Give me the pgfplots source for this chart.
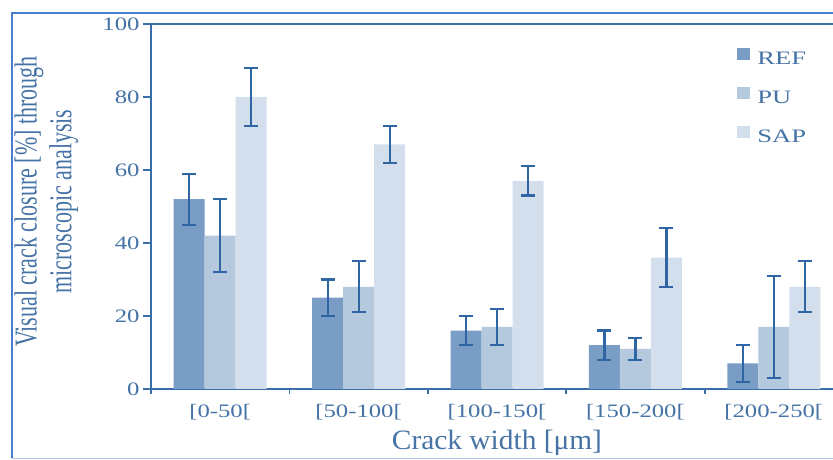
\documentclass[border=0pt]{standalone}
\usepackage{pgfplots}
\pgfplotsset{compat=1.18}
\usepackage{pgfplotstable}
\usepackage{graphicx}
\usepackage{fontspec}
\setmainfont{Liberation Serif}
\newfontfamily\tickfont{Liberation Serif}[FakeStretch=1.3]
\newfontfamily\legfont{Liberation Serif}[FakeStretch=1.4]
\newfontfamily\labfont{Liberation Serif}[FakeStretch=1.05]
\definecolor{refc}{HTML}{7A9DC5}
\definecolor{puc}{HTML}{B4C8DE}
\definecolor{sapc}{HTML}{D3DFEC}
\definecolor{errc}{HTML}{2F65A2}
\definecolor{axc}{HTML}{3A6EAA}
\definecolor{txtc}{HTML}{4573A6}
\definecolor{framec}{HTML}{4A7CCF}
\definecolor{framelt}{HTML}{AFC4E8}

\pgfplotstableread{
x y e
0 52 7
1 25 5
2 16 4
3 12 4
4 7 5
}\refdata
\pgfplotstableread{
x y e
0 42 10
1 28 7
2 17 5
3 11 3
4 17 14
}\pudata
\pgfplotstableread{
x y e
0 80 8
1 67 5
2 57 4
3 36 8
4 28 7
}\sapdata

\begin{document}
\begin{tikzpicture}
\draw[framec, line width=1.5pt] (12pt,1.5pt) -- (12pt,447pt) -- (850pt,447pt);
\draw[framelt, line width=1.5pt] (12pt,1.5pt) -- (850pt,1.5pt);
\begin{axis}[
  at={(151pt,71pt)}, anchor=south west,
  x=138.4pt, y=3.65pt,
  xmin=-0.5, xmax=4.5, ymin=0, ymax=100,
  ybar=0pt, bar width=31pt,
  axis line style={axc, line width=1.8pt},
  tick pos=left, tick align=outside,
  xtick={0,1,2,3,4},
  xticklabels={{[0-50[},{[50-100[},{[100-150[},{[150-200[},{[200-250[}},
  minor xtick={-0.5,0.5,1.5,2.5,3.5},
  major x tick style={draw=none},
  tick style={axc, line width=1.8pt},
  major tick length=8pt, minor tick length=5pt,
  ytick={0,20,40,60,80,100},
  /pgf/number format/assume math mode=true,
  xticklabel style={font=\tickfont\fontsize{19}{19}\selectfont, text=txtc, anchor=base, yshift=-21pt},
  yticklabel style={font=\tickfont\fontsize{19}{19}\selectfont, text=txtc, anchor=east},
  xlabel={Crack width [μm]},
  xlabel style={font=\labfont\fontsize{28}{28}\selectfont, text=txtc, at={(axis description cs:0.5,0)}, anchor=base, yshift=-61pt},
  ylabel={\scalebox{1.45}[1]{\rotatebox{90}{\fontsize{22}{24}\selectfont\begin{tabular}{@{}c@{}}Visual crack closure [\%] through\\ microscopic analysis\end{tabular}}}},
  ylabel style={rotate=-90, text=txtc, at={(axis description cs:0,0.5)}, anchor=center, xshift=-104pt, yshift=5pt},
  error bars/y dir=both, error bars/y explicit,
  error bars/error bar style={errc, line width=2.2pt},
  error bars/error mark options={errc, line width=2.2pt, mark size=7pt, rotate=90},
  legend image code/.code={\draw[#1, draw=none] (0pt,-1pt) rectangle (13pt,11pt);},
  legend style={at={(0.847,0.935)}, anchor=north west, draw=none, fill=none,
    font=\legfont\fontsize{19}{19}\selectfont, text=txtc,
    row sep=22pt, column sep=7pt, inner sep=0pt,
    nodes={inner sep=0pt, text height=12pt, text depth=0pt}},
  legend cell align=left,
]
\addplot[fill=refc, draw=none] table[x=x, y=y, y error=e] {\refdata};
\addplot[fill=puc, draw=none] table[x=x, y=y, y error=e] {\pudata};
\addplot[fill=sapc, draw=none] table[x=x, y=y, y error=e] {\sapdata};
\legend{REF, PU, SAP}
\end{axis}
\pgfresetboundingbox
\useasboundingbox (0pt,0pt) rectangle (833pt,460pt);
\end{tikzpicture}
\end{document}
